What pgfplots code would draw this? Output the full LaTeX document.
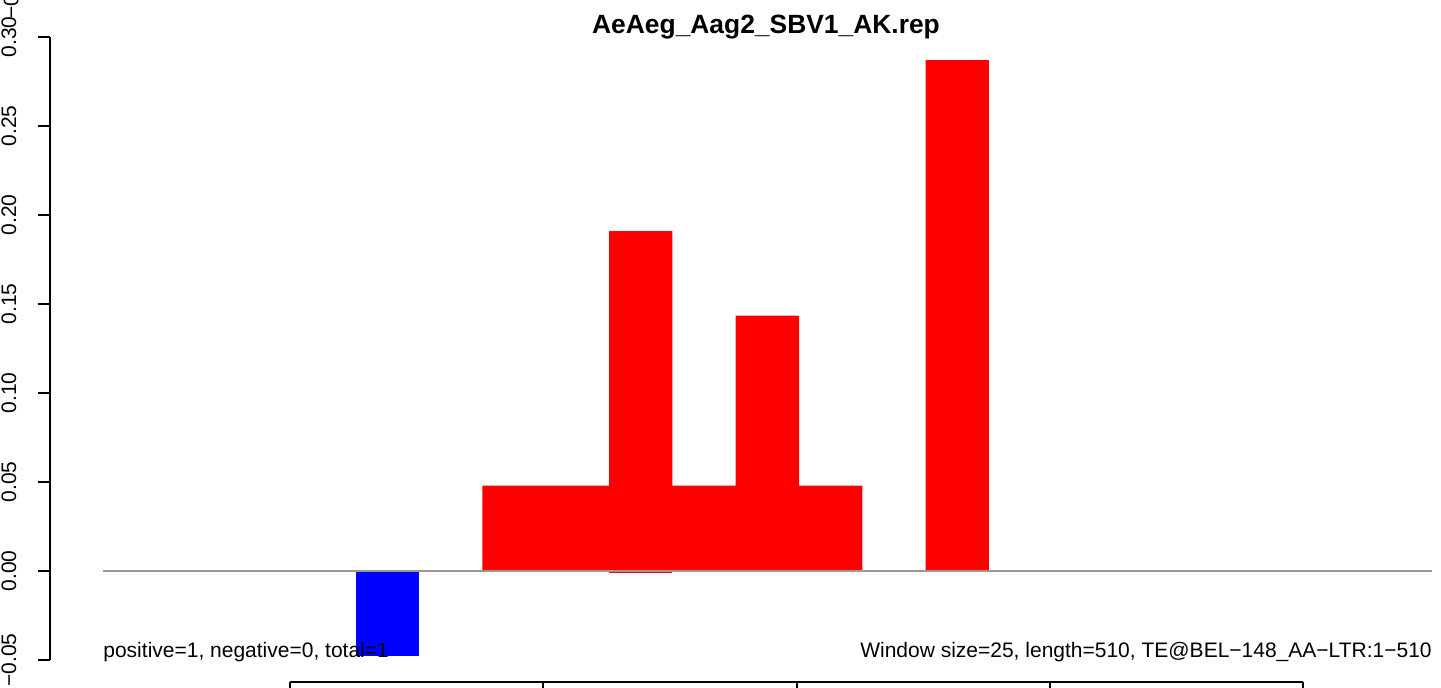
\documentclass[border=0pt]{standalone}
\usepackage{pgfplots}
\pgfplotsset{compat=1.18}
\usepackage{fontspec}
\setmainfont{Liberation Sans}
\newcommand{\rfont}{\fontsize{10.5bp}{12.6bp}\selectfont}
\begin{document}
\begin{tikzpicture}
\begin{axis}[
  scale only axis,
  width=695.5bp, height=311.5bp,
  xmin=5.232, xmax=554.49,
  ymin=-0.05, ymax=0.30,
  clip=false,
  axis x line=none,
  axis y line*=left,
  axis line style={line width=1bp, black},
  ytick={-0.05,0,0.05,0.10,0.15,0.20,0.25,0.30},
  yticklabels={−0.05,0.00,0.05,0.10,0.15,0.20,0.25,0.30},
  tick align=outside,
  major tick length=6.15bp,
  tick style={line width=1bp, black},
  yticklabel shift=10.5bp,
  yticklabel style={rotate=90, anchor=south, font=\rfont, inner sep=0pt},
]
% negative-strand bar
\addplot[ybar, bar shift=0pt, bar width=25, fill=blue, draw=none]
  coordinates {(138.5,-0.048)};
% positive-strand bars
\addplot[ybar, bar shift=0pt, bar width=25, fill=red, draw=none]
  coordinates {(188.5,0.048) (213.5,0.048) (238.5,0.191) (263.5,0.048)
               (288.5,0.1435) (313.5,0.048) (363.5,0.287)};
\addplot[ybar, bar shift=0pt, bar width=25, fill=red, draw=none]
  coordinates {(238.5,-0.001)};
% zero line
\draw[gray!80, line width=1.2bp] (axis cs:26.16,0) -- (axis cs:550.96,0);
% x axis (R style)
\draw[line width=1bp] (axis cs:100,-0.06236) -- (axis cs:500,-0.06236);
\pgfplotsinvokeforeach{100,200,300,400,500}{
  \draw[line width=1bp] (axis cs:#1,-0.06236) -- (axis cs:#1,-0.0693);
}
% texts
\node[anchor=base, font=\bfseries\fontsize{13.2bp}{15bp}\selectfont, inner sep=0pt]
  at (axis cs:287.96,0.3022) {AeAeg\_Aag2\_SBV1\_AK.rep};
\node[anchor=base west, font=\rfont, inner sep=0pt]
  at (axis cs:26.16,-0.0483) {positive=1, negative=0, total=1};
\node[anchor=base east, font=\rfont, inner sep=0pt]
  at (axis cs:550.96,-0.0483) {Window size=25, length=510, TE@BEL−148\_AA−LTR:1−510};
\node[anchor=base west, rotate=90, font=\rfont, inner sep=0pt]
  at (axis cs:-7.21,0.3101) {−0.05};
\coordinate (bl) at (axis cs:-14.51,-0.06517);
\coordinate (tr) at (axis cs:554.49,0.3208);
\end{axis}
\pgfresetboundingbox
\useasboundingbox (bl) rectangle (tr);
\end{tikzpicture}
\end{document}
